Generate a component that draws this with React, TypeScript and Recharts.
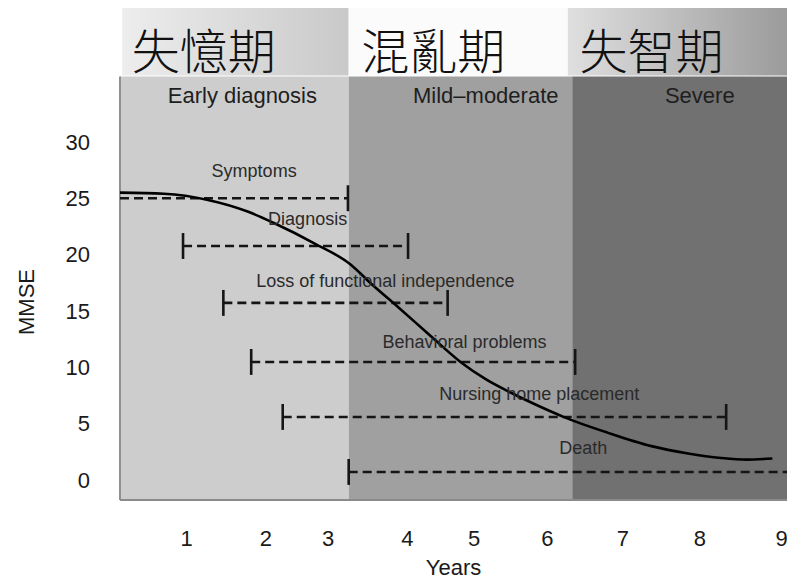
import React from 'react';
import {
  ComposedChart, Line, Scatter, XAxis, YAxis, ReferenceArea, ReferenceLine
} from 'recharts';

// MMSE decline curve (years, score)
const curveYears = [0, 0.6, 1.2, 1.75, 2.1, 2.65, 3.15, 3.42, 3.8, 4.2, 4.65, 5.0, 5.3, 5.75, 6.05, 6.65, 7.25, 7.75, 8.2, 8.55, 8.9];
const curveMmse = [25.5, 25.4, 24.85, 23.8, 22.8, 21.0, 19.1, 17.45, 15.3, 13.0, 10.45, 8.9, 7.85, 6.45, 5.6, 4.2, 3.0, 2.35, 1.95, 1.8, 1.9];

// x tick positions (years) and their labels
const xTickPos = [0.91, 1.99, 2.84, 3.92, 4.83, 5.83, 6.86, 7.91, 9.03];
const xTickLabels = ['1', '2', '3', '4', '5', '6', '7', '8', '9'];
const yTicks = [0, 5, 10, 15, 20, 25, 30];

// clinical phases (grey bands)
const phaseNames = ['Early diagnosis', 'Mild–moderate', 'Severe'];
const phaseStart = [0, 3.12, 6.17];
const phaseEnd = [3.12, 6.17, 9.1];
const phaseLabelX = [1.67, 4.99, 7.91];
const phaseLabelY = 34.1;

// chinese stage header
const stageNames = ['失憶期', '混亂期', '失智期'];
const stageStart = [0.03, 3.12, 6.11];
const stageEnd = [3.12, 6.11, 9.1];
const stageTextX = [0.16, 3.29, 6.27];
const stageTextY = 38.35;

// events: dashed ranges
const eventNames = ['Symptoms', 'Diagnosis', 'Loss of functional independence', 'Behavioral problems', 'Nursing home placement', 'Death'];
const eventLevel = [25.0, 20.76, 15.71, 10.47, 5.59, 0.71];
const eventStart = [0, 0.86, 1.41, 1.79, 2.22, 3.12];
const eventEnd = [3.11, 3.93, 4.47, 6.21, 8.27, 9.1];
const eventCapStart = [false, true, true, true, true, true];
const eventCapEnd = [true, true, true, true, true, false];
const eventLabelX = [1.83, 2.56, 3.62, 4.70, 5.72, 6.32];
const eventLabelY = [27.4, 23.15, 17.65, 12.25, 7.65, 2.85];

const Y_MIN = -1.78;
const Y_MAX = 41.88;
const BAND_TOP = 35.8;
const HEAD_BOTTOM = 35.89;
const CAP = 1.15;

const curveData = curveYears.map((x, i) => ({ x, y: curveMmse[i] }));
const eventLabelData = eventNames.map((label, i) => ({ x: eventLabelX[i], y: eventLabelY[i], label }));
const phaseLabelData = phaseNames.map((label, i) => ({ x: phaseLabelX[i], y: phaseLabelY, label }));
const stageLabelData = stageNames.map((label, i) => ({ x: stageTextX[i], y: stageTextY, label }));

const bandFills = ['#cdcdcd', '#a0a0a0', '#717171'];
const headFills = ['url(#hdrLeft)', '#fbfbfb', 'url(#hdrRight)'];

const App: React.FC = () => {
  return (
    <div style={{ position: 'absolute', left: 0, top: 0, width: 787, height: 580, background: '#fff', fontFamily: '"Liberation Sans", Arial, Helvetica, sans-serif' }}>
      <ComposedChart width={787} height={580} data={curveData} margin={{ top: 8, right: 0, bottom: 0, left: 0 }}>
        <defs>
          <linearGradient id="hdrLeft" x1="0" y1="0" x2="1" y2="0">
            <stop offset="0" stopColor="#ededed" />
            <stop offset="1" stopColor="#c9c9c9" />
          </linearGradient>
          <linearGradient id="hdrRight" x1="0" y1="0" x2="1" y2="0">
            <stop offset="0" stopColor="#dfdfdf" />
            <stop offset="1" stopColor="#9b9b9b" />
          </linearGradient>
        </defs>
        <XAxis
          type="number"
          dataKey="x"
          domain={[0, 9.1]}
          ticks={xTickPos}
          tickFormatter={(v: number) => xTickLabels[xTickPos.indexOf(v)]}
          allowDataOverflow
          height={80}
          tickSize={0}
          tickMargin={30}
          tickLine={false}
          axisLine={{ stroke: '#8a8a8a', strokeWidth: 2 }}
          tick={{ fontSize: 22, fill: '#1a1a1a' }}
          label={{ value: 'Years', position: 'insideBottom', offset: 5, fontSize: 22, fill: '#1a1a1a' }}
        />
        <YAxis
          type="number"
          domain={[Y_MIN, Y_MAX]}
          ticks={yTicks}
          allowDataOverflow
          width={120}
          tickSize={0}
          tickMargin={30}
          tickLine={false}
          axisLine={false}
          tick={{ fontSize: 22, fill: '#1a1a1a' }}
          label={() => (
            <text x={26} y={302} transform="rotate(-90 26 302)" textAnchor="middle" dominantBaseline="central" fontSize={22} fill="#1a1a1a">
              MMSE
            </text>
          )}
        />

        {stageNames.map((name, i) => (
          <ReferenceArea key={'h' + name} x1={stageStart[i]} x2={stageEnd[i]} y1={HEAD_BOTTOM} y2={Y_MAX} fill={headFills[i]} fillOpacity={1} stroke="none" />
        ))}
        {phaseNames.map((name, i) => (
          <ReferenceArea key={'p' + name} x1={phaseStart[i]} x2={phaseEnd[i]} y1={Y_MIN} y2={BAND_TOP} fill={bandFills[i]} fillOpacity={1} stroke="none" />
        ))}
        <ReferenceLine segment={[{ x: 0, y: Y_MIN }, { x: 0, y: BAND_TOP }]} stroke="#909090" strokeWidth={2} />

        {eventNames.map((name, i) => (
          <ReferenceLine
            key={'e' + name}
            segment={[{ x: eventStart[i], y: eventLevel[i] }, { x: eventEnd[i], y: eventLevel[i] }]}
            stroke="#151515"
            strokeWidth={2.6}
            strokeDasharray="9 5"
          />
        ))}
        {eventNames.map((name, i) => eventCapStart[i] ? (
          <ReferenceLine key={'cs' + name} segment={[{ x: eventStart[i], y: eventLevel[i] - CAP }, { x: eventStart[i], y: eventLevel[i] + CAP }]} stroke="#151515" strokeWidth={2.6} />
        ) : null)}
        {eventNames.map((name, i) => eventCapEnd[i] ? (
          <ReferenceLine key={'ce' + name} segment={[{ x: eventEnd[i], y: eventLevel[i] - CAP }, { x: eventEnd[i], y: eventLevel[i] + CAP }]} stroke="#151515" strokeWidth={2.6} />
        ) : null)}

        <Line type="monotone" dataKey="y" stroke="#000" strokeWidth={2.6} dot={false} isAnimationActive={false} />

        <Scatter
          data={eventLabelData}
          dataKey="y"
          isAnimationActive={false}
          shape={(p: any) => (
            <text x={p.cx} y={p.cy} textAnchor="middle" dominantBaseline="central" fontSize={18} fill="#2a2a2a">
              {p.payload.label}
            </text>
          )}
        />
        <Scatter
          data={phaseLabelData}
          dataKey="y"
          isAnimationActive={false}
          shape={(p: any) => (
            <text x={p.cx} y={p.cy} textAnchor="middle" dominantBaseline="central" fontSize={22} fill="#1e1e1e">
              {p.payload.label}
            </text>
          )}
        />
        <Scatter
          data={stageLabelData}
          dataKey="y"
          isAnimationActive={false}
          shape={(p: any) => (
            <text x={p.cx} y={p.cy} textAnchor="start" dominantBaseline="central" fontSize={48} fontWeight={300} fill="#111" fontFamily='"Noto Sans CJK TC", "Noto Sans CJK SC", sans-serif'>
              {p.payload.label}
            </text>
          )}
        />
      </ComposedChart>
    </div>
  );
};

export default App;
